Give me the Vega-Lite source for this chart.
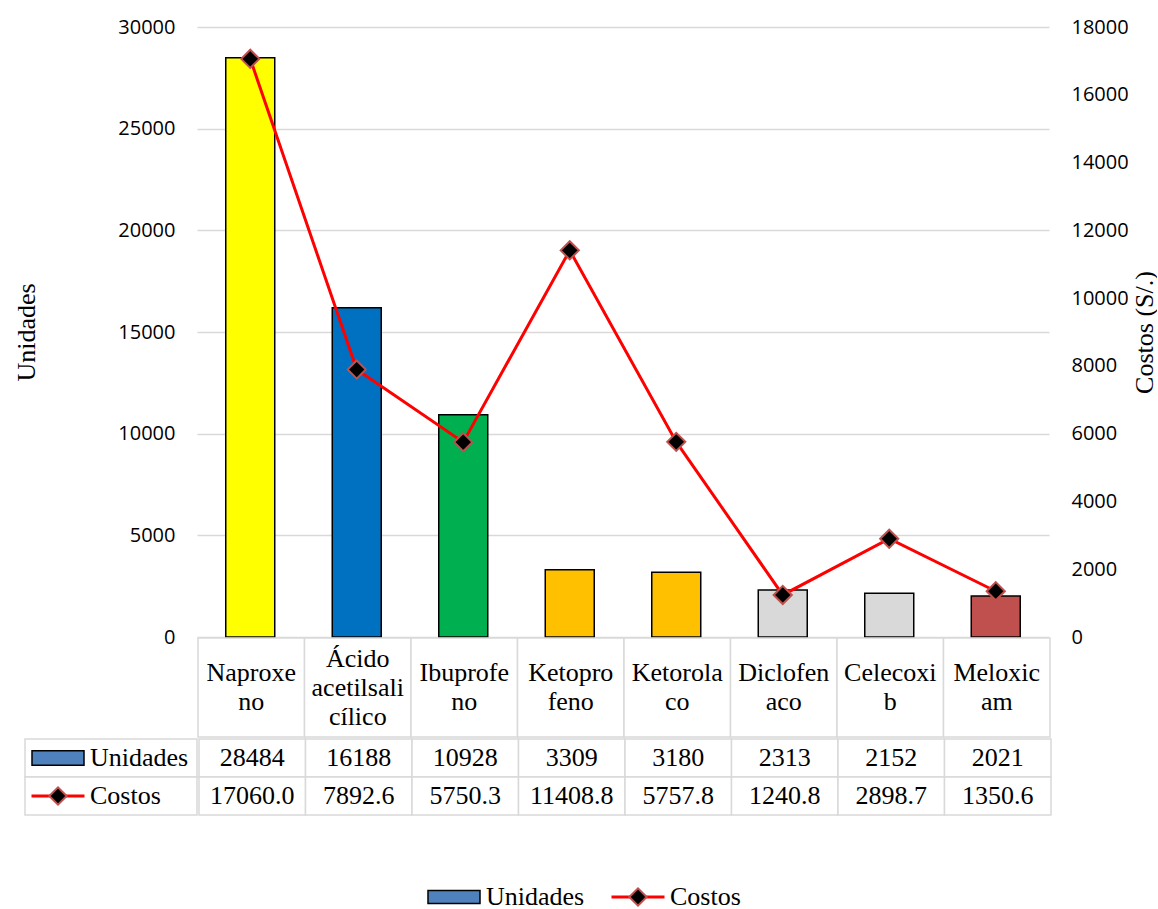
{
  "$schema": "https://vega.github.io/schema/vega-lite/v6.json",
  "background": "white",
  "padding": {"left": 13, "top": 17, "right": 0, "bottom": 0},
  "config": {
    "view": {"stroke": null},
    "axis": {"labelFont": "Open Sans", "labelFontSize": 20, "labelColor": "black", "titleFont": "Liberation Serif", "titleFontSize": 26, "titleFontWeight": "normal", "titleColor": "black"},
    "text": {"font": "Liberation Serif", "fontSize": 26, "color": "black"}
  },
  "datasets": {
    "drugs": [
      {"farmaco": "Naproxeno", "etiqueta": "Naproxe\nno", "unidades": 28484, "costos": 17060.0},
      {"farmaco": "Ácido acetilsalicílico", "etiqueta": "Ácido\nacetilsali\ncílico", "unidades": 16188, "costos": 7892.6},
      {"farmaco": "Ibuprofeno", "etiqueta": "Ibuprofe\nno", "unidades": 10928, "costos": 5750.3},
      {"farmaco": "Ketoprofeno", "etiqueta": "Ketopro\nfeno", "unidades": 3309, "costos": 11408.8},
      {"farmaco": "Ketorolaco", "etiqueta": "Ketorola\nco", "unidades": 3180, "costos": 5757.8},
      {"farmaco": "Diclofenaco", "etiqueta": "Diclofen\naco", "unidades": 2313, "costos": 1240.8},
      {"farmaco": "Celecoxib", "etiqueta": "Celecoxi\nb", "unidades": 2152, "costos": 2898.7},
      {"farmaco": "Meloxicam", "etiqueta": "Meloxic\nam", "unidades": 2021, "costos": 1350.6}
    ],
    "series": [{"serie": "Unidades"}, {"serie": "Costos"}]
  },
  "concat": [
    {
      "concat": [
        {
          "hconcat": [
            {
              "width": 1, "height": 610,
              "data": {"values": [{}]},
              "mark": {"type": "rect", "opacity": 0},
              "encoding": {}
            },
            {
              "width": 852,
              "height": 610,
              "data": {"name": "drugs"},
              "encoding": {
                "x": {"field": "farmaco", "type": "nominal", "sort": null, "axis": null, "scale": {"paddingInner": 0.54, "paddingOuter": 0.27}}
              },
              "layer": [
                {
                  "mark": {"type": "bar", "stroke": "black", "strokeWidth": 1.5},
                  "encoding": {
                    "y": {"field": "unidades", "type": "quantitative", "scale": {"domain": [0, 30000]},
                      "axis": {"orient": "left", "title": "Unidades", "format": "d", "values": [0, 5000, 10000, 15000, 20000, 25000, 30000], "grid": true, "gridColor": "#d9d9d9", "gridWidth": 1.3, "domain": false, "ticks": false, "labelPadding": 22, "minExtent": 80, "maxExtent": 80, "titlePadding": 78}},
                    "color": {"field": "farmaco", "type": "nominal", "sort": null, "legend": null,
                      "scale": {"domain": ["Naproxeno", "Ácido acetilsalicílico", "Ibuprofeno", "Ketoprofeno", "Ketorolaco", "Diclofenaco", "Celecoxib", "Meloxicam"],
                        "range": ["#FFFF00", "#0070C0", "#00B050", "#FFC000", "#FFC000", "#D9D9D9", "#D9D9D9", "#C0504D"]}}
                  }
                },
                {
                  "encoding": {
                    "y": {"field": "costos", "type": "quantitative", "scale": {"domain": [0, 18000]},
                      "axis": {"orient": "right", "title": "Costos (S/.)", "format": "d", "values": [0, 2000, 4000, 6000, 8000, 10000, 12000, 14000, 16000, 18000], "grid": false, "domain": false, "ticks": false, "labelPadding": 22, "minExtent": 82, "maxExtent": 82, "titlePadding": 0, "titleAngle": 270, "titleBaseline": "top"}}
                  },
                  "layer": [
                    {"mark": {"type": "line", "color": "#FF0000", "strokeWidth": 3}},
                    {"mark": {"type": "point", "shape": "diamond", "filled": true, "fill": "black", "stroke": "#C0504D", "strokeWidth": 2, "size": 330, "opacity": 1}}
                  ]
                }
              ],
              "resolve": {"scale": {"y": "independent"}}
            }
          ],
          "spacing": -13
        },
        {
          "vconcat": [
            {
              "hconcat": [
                {
                  "width": 172, "height": 99,
                  "data": {"values": [{}]},
                  "mark": {"type": "rect", "opacity": 0},
                  "encoding": {}
                },
                {
                  "width": 852, "height": 99,
                  "data": {"name": "drugs"},
                  "encoding": {"x": {"field": "farmaco", "type": "nominal", "sort": null, "axis": null, "scale": {"paddingInner": 0, "paddingOuter": 0}}},
                  "layer": [
                    {"mark": {"type": "rect", "fill": "white", "stroke": "#d9d9d9", "strokeWidth": 1.5}},
                    {"transform": [{"filter": "datum.farmaco !== 'Ácido acetilsalicílico'"}],
                      "mark": {"type": "text", "lineBreak": "\n", "lineHeight": 29, "baseline": "middle", "dy": -14.5}, "encoding": {"text": {"field": "etiqueta", "type": "nominal"}}},
                    {"transform": [{"filter": "datum.farmaco === 'Ácido acetilsalicílico'"}],
                      "mark": {"type": "text", "lineBreak": "\n", "lineHeight": 29, "baseline": "middle", "dy": -29}, "encoding": {"text": {"field": "etiqueta", "type": "nominal"}}}
                  ]
                }
              ],
              "spacing": 0
            },
            {
              "hconcat": [
                {
                  "width": 172, "height": 76,
                  "data": {"name": "series"},
                  "encoding": {
                    "y": {"field": "serie", "type": "nominal", "sort": null, "axis": null, "scale": {"domain": ["Unidades", "Costos"], "paddingInner": 0, "paddingOuter": 0}}
                  },
                  "layer": [
                    {"mark": {"type": "rect", "fill": "white", "stroke": "#d9d9d9", "strokeWidth": 1.5}},
                    {
                      "transform": [{"filter": "datum.serie === 'Unidades'"}],
                      "mark": {"type": "point", "shape": "M-1,-0.28H1V0.28H-1Z", "filled": true, "fill": "#4F81BD", "stroke": "black", "strokeWidth": 1.5, "size": 2704, "opacity": 1},
                      "encoding": {"x": {"datum": "símbolo", "type": "nominal", "axis": null, "scale": {"type": "point", "domain": ["símbolo", "nombre"], "range": [33, 65], "padding": 0}}}
                    },
                    {
                      "transform": [{"filter": "datum.serie === 'Costos'"}],
                      "mark": {"type": "point", "shape": "M-1,0H1", "filled": false, "stroke": "#FF0000", "strokeWidth": 3, "size": 2809, "opacity": 1},
                      "encoding": {"x": {"datum": "símbolo", "type": "nominal"}}
                    },
                    {
                      "transform": [{"filter": "datum.serie === 'Costos'"}],
                      "mark": {"type": "point", "shape": "diamond", "filled": true, "fill": "black", "stroke": "#C0504D", "strokeWidth": 2, "size": 300, "opacity": 1},
                      "encoding": {"x": {"datum": "símbolo", "type": "nominal"}}
                    },
                    {
                      "mark": {"type": "text", "align": "left", "baseline": "middle"},
                      "encoding": {"x": {"datum": "nombre", "type": "nominal"}, "text": {"field": "serie", "type": "nominal"}}
                    }
                  ]
                },
                {
                  "width": 852, "height": 76,
                  "data": {"name": "drugs"},
                  "encoding": {"x": {"field": "farmaco", "type": "nominal", "sort": null, "axis": null, "scale": {"paddingInner": 0, "paddingOuter": 0}}},
                  "layer": [
                    {"mark": {"type": "rect", "fill": "white", "stroke": "#d9d9d9", "strokeWidth": 1.5},
                      "encoding": {"y": {"datum": "Unidades", "type": "nominal", "axis": null, "scale": {"domain": ["Unidades", "Costos"], "paddingInner": 0, "paddingOuter": 0}}}},
                    {"mark": {"type": "rect", "fill": "white", "stroke": "#d9d9d9", "strokeWidth": 1.5},
                      "encoding": {"y": {"datum": "Costos", "type": "nominal"}}},
                    {"mark": {"type": "text", "baseline": "middle"},
                      "encoding": {"y": {"datum": "Unidades", "type": "nominal"}, "text": {"field": "unidades", "type": "quantitative", "format": "d"}}},
                    {"mark": {"type": "text", "baseline": "middle"},
                      "encoding": {"y": {"datum": "Costos", "type": "nominal"}, "text": {"field": "costos", "type": "quantitative", "format": ".1f"}}}
                  ]
                }
              ],
              "spacing": 0
            }
          ],
          "spacing": 0
        }
      ],
      "columns": 1,
      "align": "none",
      "spacing": -10
    },
    {
      "width": 1021, "height": 22,
      "data": {"name": "series"},
      "encoding": {
        "x": {"field": "serie", "type": "nominal", "sort": null, "axis": null,
          "scale": {"type": "point", "domain": ["Unidades", "Costos"], "range": [429, 613], "padding": 0}}
      },
      "layer": [
        {
          "transform": [{"filter": "datum.serie === 'Unidades'"}],
          "mark": {"type": "point", "shape": "M-1,-0.25H1V0.25H-1Z", "filled": true, "fill": "#4F81BD", "stroke": "black", "strokeWidth": 1.5, "size": 2704, "opacity": 1}
        },
        {
          "transform": [{"filter": "datum.serie === 'Costos'"}],
          "mark": {"type": "point", "shape": "M-1,0H1", "filled": false, "stroke": "#FF0000", "strokeWidth": 3, "size": 2809, "opacity": 1}
        },
        {
          "transform": [{"filter": "datum.serie === 'Costos'"}],
          "mark": {"type": "point", "shape": "diamond", "filled": true, "fill": "black", "stroke": "#C0504D", "strokeWidth": 2, "size": 300, "opacity": 1}
        },
        {
          "mark": {"type": "text", "align": "left", "baseline": "middle", "dx": 32},
          "encoding": {"text": {"field": "serie", "type": "nominal"}}
        }
      ]
    }
  ],
  "columns": 1,
  "align": "none",
  "spacing": 68
}
